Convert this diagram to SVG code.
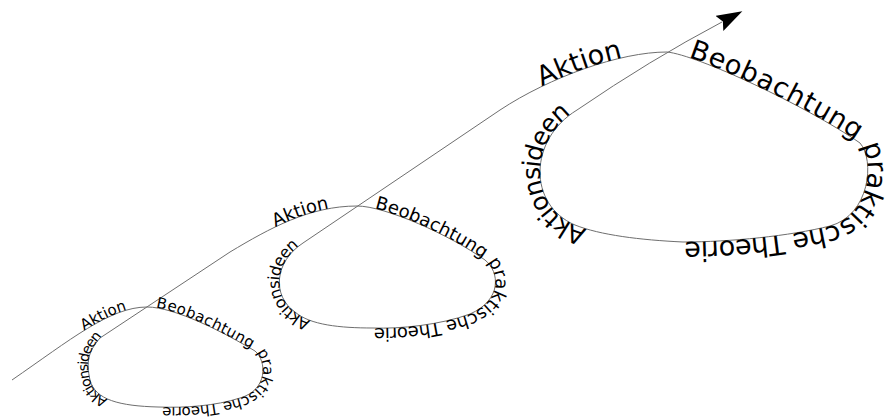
<svg xmlns="http://www.w3.org/2000/svg" width="886" height="417" viewBox="0 0 886 417">
<style>
.line{fill:none;stroke:#6e6e6e;stroke-width:1}
.t{font-family:"DejaVu Sans","Liberation Sans",sans-serif;fill:#000}
.l1{font-size:15px}
.l2{font-size:18px}
.l3{font-size:27px}
</style>
<defs>
<marker id="arrow" markerUnits="userSpaceOnUse" markerWidth="30" markerHeight="20" refX="3" refY="8.5" orient="auto" viewBox="0 0 30 20">
<path d="M0,0 L26,8.5 L0,17 L4,8.5 Z" fill="#000"/>
</marker>
<path id="in1" d="M12,380 C70,340 110,307 147,307"/>
<path id="b1" d="M147,307 C175,307 225,333 255,351"/>
<path id="c1" d="M255,351 C267,361 268,390 240,398 C215,406 185,408 158,407"/>
<path id="d1" d="M158,407 C120,406 95,400 90,380 C86,362 88,352 100,338"/>
<path id="in2" d="M230,252 C270,228 310,206 357,206"/>
<path id="b2" d="M357,206 C385,206 450,235 485,260"/>
<path id="c2" d="M485,260 C500,272 502,300 470,314 C440,325 400,329 373,328"/>
<path id="d2" d="M373,328 C340,328 310,325 295,312 C272,296 274,262 303,243"/>
<path id="in3" d="M500,110 C550,77 620,52 667,52"/>
<path id="b3" d="M667,52 C697,55 805,105 860,143"/>
<path id="c3" d="M860,143 C875,160 870,215 830,226 C790,236 730,242 683,242"/>
<path id="d3" d="M683,242 C640,240 600,235 575,225 C528,205 528,140 577,110"/>
</defs>
<g id="connectors">
<path class="line" marker-end="url(#arrow)" d="M12,380 C70,340 110,307 147,307 C175,307 225,333 255,351 C267,361 268,390 240,398 C215,406 185,408 158,407 C120,406 95,400 90,380 C86,362 88,352 100,338 L230,252 C270,228 310,206 357,206 C385,206 450,235 485,260 C500,272 502,300 470,314 C440,325 400,329 373,328 C340,328 310,325 295,312 C272,296 274,262 303,243 L500,110 C550,77 620,52 667,52 C697,55 805,105 860,143 C875,160 870,215 830,226 C790,236 730,242 683,242 C640,240 600,235 575,225 C528,205 528,140 577,110 Q650,60 722,22"/>
</g>
<g id="loop1">
<text class="t l1" text-anchor="end"><textPath href="#in1" startOffset="135">Aktion</textPath></text>
<text class="t l1" letter-spacing="0.4"><textPath href="#b1" startOffset="9">Beobachtung</textPath></text>
<text class="t l1" letter-spacing="-0.2"><textPath href="#c1" startOffset="2">praktische Theorie</textPath></text>
<text class="t" font-size="14" letter-spacing="-1.4"><textPath href="#d1" startOffset="51">Aktionsideen</textPath></text>
</g>
<g id="loop2">
<text class="t l2" text-anchor="end"><textPath href="#in2" startOffset="109">Aktion</textPath></text>
<text class="t l2" letter-spacing="0"><textPath href="#b2" startOffset="18">Beobachtung</textPath></text>
<text class="t l2" letter-spacing="-0.3"><textPath href="#c2" startOffset="3">praktische Theorie</textPath></text>
<text class="t" font-size="16" letter-spacing="-0.7"><textPath href="#d2" startOffset="63">Aktionsideen</textPath></text>
</g>
<g id="loop3">
<text class="t l3" text-anchor="end"><textPath href="#in3" startOffset="134">Aktion</textPath></text>
<text class="t l3" letter-spacing="0.8"><textPath href="#b3" startOffset="22">Beobachtung</textPath></text>
<text class="t l3" letter-spacing="-0.4"><textPath href="#c3" startOffset="3">praktische Theorie</textPath></text>
<text class="t" font-size="25" letter-spacing="-1.2"><textPath href="#d3" startOffset="97">Aktionsideen</textPath></text>
</g>
</svg>
